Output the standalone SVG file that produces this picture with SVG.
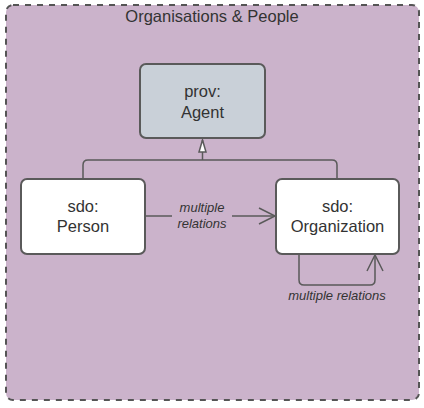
<svg xmlns="http://www.w3.org/2000/svg" width="424" height="408" viewBox="0 0 424 408">
<defs>
<style>
.node{stroke:#5a5a5a;stroke-width:2;}
.t{font-family:"Liberation Sans",Arial,sans-serif;font-size:16.5px;fill:#333;text-anchor:middle;}
.lbl{font-family:"Liberation Sans",Arial,sans-serif;font-size:13px;font-style:italic;fill:#333;text-anchor:middle;}
.edge{fill:none;stroke:#5a5a5a;stroke-width:1.5;}
</style>
<marker id="tri" viewBox="0 0 14 10" refX="13" refY="5" markerWidth="14" markerHeight="10" markerUnits="userSpaceOnUse" orient="auto">
<path d="M13,5 L1,1.5 L1,8.5 Z" fill="#fff" stroke="#5a5a5a" stroke-width="1.5"/>
</marker>
<marker id="open" viewBox="0 0 20 20" refX="18" refY="10" markerWidth="20" markerHeight="20" markerUnits="userSpaceOnUse" orient="auto">
<path d="M2,2 L18,10 L2,18" fill="none" stroke="#5a5a5a" stroke-width="1.5"/>
</marker>
</defs>
<g id="container">
<rect x="6" y="5" width="413" height="395" rx="7" fill="#cbb3cb" stroke="#555" stroke-width="2" stroke-dasharray="6,6"/>
<text class="t" x="212" y="22" font-size="16">Organisations &amp; People</text>
</g>
<g id="connectors">
<path class="edge" d="M83,179 V165 Q83,160 88,160 H332 Q337,160 337,165 V179"/>
<path class="edge" d="M202.5,160 V140" marker-end="url(#tri)"/>
<path class="edge" d="M145,216 H275" marker-end="url(#open)"/>
<path class="edge" d="M299,254 V280 Q299,285 304,285 H370 Q375,285 375,280 V255" marker-end="url(#open)"/>
</g>
<g id="label-person-org">
<rect x="172" y="199" width="60" height="32" fill="#cbb3cb"/>
<text class="lbl" x="202" y="212">multiple</text>
<text class="lbl" x="202" y="228">relations</text>
</g>
<g id="label-self">
<text class="lbl" x="337" y="300">multiple relations</text>
</g>
<g id="agent">
<rect class="node" x="140" y="64" width="125" height="74" rx="6" fill="#c9d0d8"/>
<text class="t" x="202.5" y="97">prov:</text>
<text class="t" x="202.5" y="118">Agent</text>
</g>
<g id="person">
<rect class="node" x="21" y="179" width="124" height="75" rx="6" fill="#fff"/>
<text class="t" x="83" y="212">sdo:</text>
<text class="t" x="83" y="232">Person</text>
</g>
<g id="organization">
<rect class="node" x="276" y="179" width="123" height="75" rx="6" fill="#fff"/>
<text class="t" x="337.5" y="212">sdo:</text>
<text class="t" x="337.5" y="232">Organization</text>
</g>
</svg>
